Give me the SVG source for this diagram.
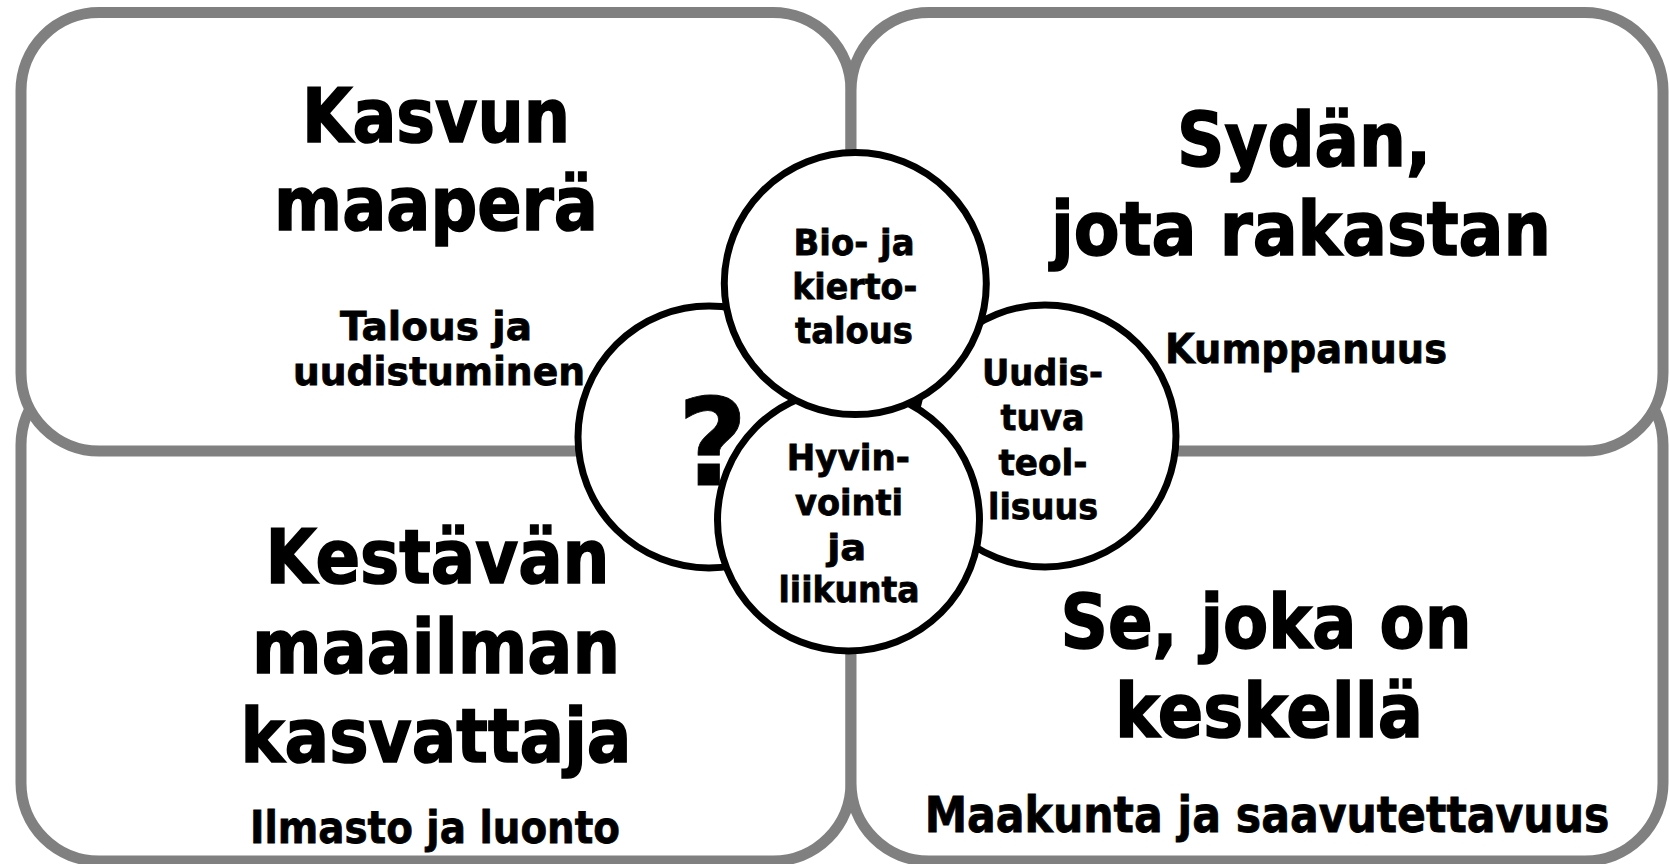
<svg xmlns="http://www.w3.org/2000/svg" width="1670" height="864" viewBox="0 0 1670 864">
<style>
.box{fill:#fff;stroke:#808080;stroke-width:11}
.circ{fill:#fff;stroke:#000;stroke-width:7}
text{font-family:"DejaVu Sans","Verdana",sans-serif;font-weight:bold;text-anchor:middle;fill:#000;stroke:#000;stroke-width:0.8px}
.t{font-size:74px;stroke-width:1.6px}
.c{font-size:36px}
</style>
<rect width="1670" height="864" fill="#fff"/>
<g id="kestavan">
<rect class="box" x="21" y="367" width="830" height="494" rx="78"/>
<text class="t" x="437.5" y="583" textLength="344" lengthAdjust="spacingAndGlyphs">Kestävän</text>
<text class="t" x="436" y="673" textLength="368" lengthAdjust="spacingAndGlyphs">maailman</text>
<text class="t" x="436" y="762" textLength="391" lengthAdjust="spacingAndGlyphs">kasvattaja</text>
<text x="435" y="843" font-size="45" textLength="370" lengthAdjust="spacingAndGlyphs">Ilmasto ja luonto</text>
</g>
<g id="se-joka">
<rect class="box" x="851" y="367" width="812" height="494" rx="78"/>
<text class="t" x="1266" y="648" textLength="411" lengthAdjust="spacingAndGlyphs">Se, joka on</text>
<text class="t" x="1269" y="737" textLength="308" lengthAdjust="spacingAndGlyphs">keskellä</text>
<text x="0" y="832" font-size="49" transform="translate(1267 0) scale(0.87 1)">Maakunta ja saavutettavuus</text>
</g>
<g id="kasvun">
<rect class="box" x="21" y="12.5" width="830" height="438.5" rx="78"/>
<text class="t" x="436" y="142" textLength="268" lengthAdjust="spacingAndGlyphs">Kasvun</text>
<text class="t" x="436" y="230" textLength="324" lengthAdjust="spacingAndGlyphs">maaperä</text>
<text x="436" y="340" font-size="39" textLength="192" lengthAdjust="spacingAndGlyphs">Talous ja</text>
<text x="439" y="385" font-size="39" textLength="292" lengthAdjust="spacingAndGlyphs">uudistuminen</text>
</g>
<g id="sydan">
<rect class="box" x="851" y="12.5" width="812" height="438.5" rx="78"/>
<text class="t" x="1304" y="166" textLength="254" lengthAdjust="spacingAndGlyphs">Sydän,</text>
<text class="t" x="1301" y="255" textLength="500" lengthAdjust="spacingAndGlyphs">jota rakastan</text>
<text x="1306" y="363" font-size="41" textLength="282" lengthAdjust="spacingAndGlyphs">Kumppanuus</text>
</g>
<g id="connectors"/>
<g id="kysymys">
<circle class="circ" cx="709" cy="437" r="131"/>
<text x="712.5" y="485" font-size="121" stroke-width="2">?</text>
</g>
<g id="uudistuva">
<circle class="circ" cx="1045" cy="436" r="131"/>
<text class="c" x="1042.5" y="385" textLength="121" lengthAdjust="spacingAndGlyphs">Uudis-</text>
<text class="c" x="1042.5" y="430" textLength="84" lengthAdjust="spacingAndGlyphs">tuva</text>
<text class="c" x="1043" y="475" textLength="89" lengthAdjust="spacingAndGlyphs">teol-</text>
<text class="c" x="1043" y="518.5" textLength="110" lengthAdjust="spacingAndGlyphs">lisuus</text>
</g>
<g id="hyvinvointi">
<circle class="circ" cx="848.5" cy="520" r="131"/>
<text class="c" x="848.3" y="470" textLength="123" lengthAdjust="spacingAndGlyphs">Hyvin-</text>
<text class="c" x="849" y="515" textLength="108" lengthAdjust="spacingAndGlyphs">vointi</text>
<text class="c" x="846.7" y="560" textLength="39" lengthAdjust="spacingAndGlyphs">ja</text>
<text class="c" x="849" y="602" textLength="141" lengthAdjust="spacingAndGlyphs">liikunta</text>
</g>
<g id="biotalous">
<circle class="circ" cx="855.3" cy="283.6" r="131"/>
<text class="c" x="854" y="254.5" textLength="121" lengthAdjust="spacingAndGlyphs">Bio- ja</text>
<text class="c" x="854.7" y="298.5" textLength="125" lengthAdjust="spacingAndGlyphs">kierto-</text>
<text class="c" x="854" y="343" textLength="118" lengthAdjust="spacingAndGlyphs">talous</text>
</g>
</svg>
